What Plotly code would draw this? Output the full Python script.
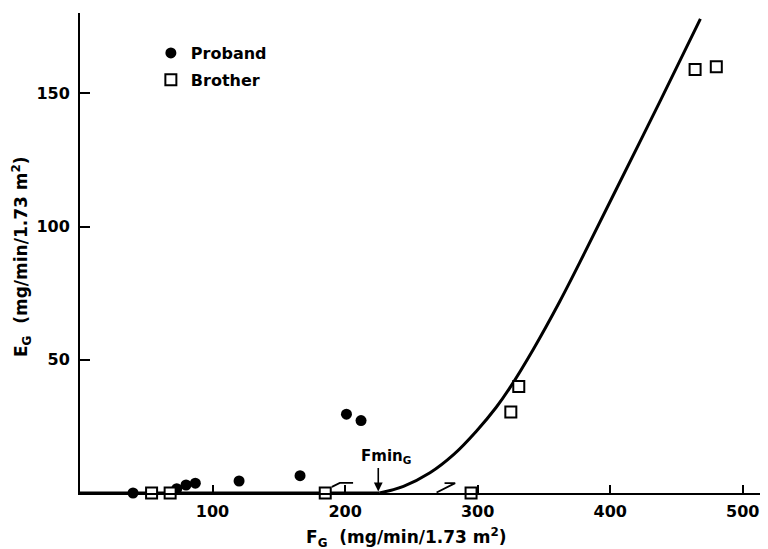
import plotly.graph_objects as go

# ---- data ----
proband_fg = [40, 73, 80, 87, 120, 166, 201, 212]
proband_eg = [0, 1.6, 3.0, 3.7, 4.5, 6.5, 29.6, 27.2]

brother_fg = [54, 68, 185, 295, 325, 331, 464, 480]
brother_eg = [0, 0, 0, 0, 30.4, 40, 159, 160]

# flat part of the fitted curve (below Fmin_G) and the splay curve above it
baseline_fg = [0, 226]
baseline_eg = [0, 0]
curve_fg = [226, 244, 264, 282, 299, 314, 324, 342, 362, 381, 405, 438, 468]
curve_eg = [0, 2.5, 7.6, 14.5, 23.2, 32.2, 39.3, 54, 72, 90.5, 114.5, 147.5, 178]

fmin_g = 225

x_ticks = [100, 200, 300, 400, 500]
y_ticks = [50, 100, 150]

FONT = "DejaVu Sans"
INK = "black"

fig = go.Figure()

fig.add_trace(go.Scatter(
    x=baseline_fg, y=baseline_eg, mode="lines",
    line=dict(color=INK, width=3),
    showlegend=False, hoverinfo="skip", cliponaxis=False,
))
fig.add_trace(go.Scatter(
    x=curve_fg, y=curve_eg, mode="lines",
    line=dict(color=INK, width=3, shape="spline", smoothing=1.0),
    showlegend=False, hoverinfo="skip", cliponaxis=False,
))

fig.add_trace(go.Scatter(
    x=proband_fg, y=proband_eg, mode="markers", name="Proband",
    marker=dict(symbol="circle", size=11, color=INK, line=dict(width=0)),
    cliponaxis=False, legendgroup="p",
))

fig.add_trace(go.Scatter(
    x=brother_fg, y=brother_eg, mode="markers", name="Brother",
    marker=dict(symbol="square", size=11, color="white", line=dict(color=INK, width=2)),
    cliponaxis=False, legendgroup="b",
))

# small break marks drawn on the axis in the original
fig.add_shape(type="path", path="M 275,3.7 L 283,3.7 L 269,0.2",
              xref="x", yref="y", line=dict(color=INK, width=1.8))
fig.add_shape(type="path", path="M 190,2.3 L 196,3.8 L 206,3.8",
              xref="x", yref="y", line=dict(color=INK, width=1.8))

# Fmin_G label + arrow
fig.add_annotation(x=fmin_g, y=0.6, xref="x", yref="y", text=" ",
                   showarrow=True, ax=0, ay=-26, arrowhead=2, arrowsize=1.1,
                   arrowwidth=1.6, arrowcolor=INK, font=dict(size=2))
fig.add_annotation(x=fmin_g, y=0, xref="x", yref="y", text="Fmin<sub>G</sub>",
                   showarrow=False, xanchor="left", yanchor="middle",
                   xshift=-19, yshift=37,
                   font=dict(family=FONT, size=15, color=INK, weight="bold"))

# axis titles
fig.add_annotation(x=0.475, y=-0.092, xref="paper", yref="paper",
                   text="F<sub>G</sub>  (mg/min/1.73 m<sup>2</sup>)",
                   showarrow=False, xanchor="center", yanchor="middle",
                   font=dict(family=FONT, size=17, color=INK, weight="bold"))
fig.add_annotation(x=-0.084, y=0.492, xref="paper", yref="paper",
                   text="E<sub>G</sub>  (mg/min/1.73 m<sup>2</sup>)", textangle=-90,
                   showarrow=False, xanchor="center", yanchor="middle",
                   font=dict(family=FONT, size=17, color=INK, weight="bold"))

# the page body has an 8px margin, so the figure is 8px smaller and shifted
fig.update_layout(
    width=760, height=541,
    margin=dict(l=72, r=0, t=5, b=56),
    paper_bgcolor="white", plot_bgcolor="white",
    font=dict(family=FONT, size=16, color=INK),
    legend=dict(x=0.103, y=0.952, xanchor="left", yanchor="top",
                bgcolor="rgba(0,0,0,0)", tracegroupgap=3,
                font=dict(family=FONT, size=16, color=INK, weight="bold")),
    xaxis=dict(range=[0, 519], showline=True, linecolor=INK, linewidth=1.6,
               ticks="inside", ticklen=8, tickwidth=1.6, tickcolor=INK,
               tickvals=x_ticks, showgrid=False, zeroline=False,
               ticklabelstandoff=3,
               tickfont=dict(family=FONT, size=16, color=INK, weight="bold")),
    yaxis=dict(range=[0, 180.2], showline=True, linecolor=INK, linewidth=2,
               ticks="inside", ticklen=10, tickwidth=1.6, tickcolor=INK,
               tickvals=y_ticks, showgrid=False, zeroline=False,
               ticklabelstandoff=5,
               tickfont=dict(family=FONT, size=16, color=INK, weight="bold")),
)

fig.write_html("out.html")
